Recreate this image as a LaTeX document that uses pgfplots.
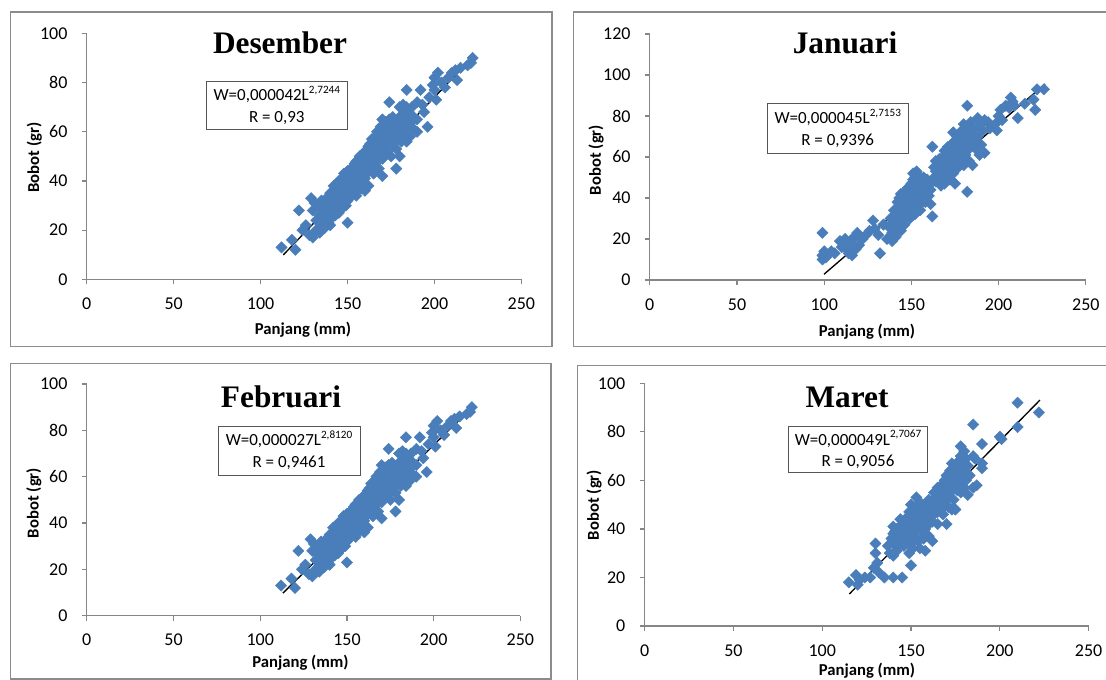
\documentclass[border=0pt]{standalone}
\usepackage{fontspec}
\setmainfont{Carlito}
\newfontfamily\titlefont{Liberation Serif}
\usepackage{pgfplots}
\usepackage{pgfplotstable}
\pgfplotsset{compat=1.18}
\definecolor{mblue}{HTML}{4A7EBB}
\definecolor{axgray}{HTML}{868686}
\definecolor{framegray}{HTML}{8C8C8C}
\definecolor{boxgray}{HTML}{555555}

\pgfplotstableread{
x y
112 13
118 16
120 12
122 28
124 20
126 22
128 18
129 33
130 17
130 28
131 31
132 24
132 20
133 30
134 26
134 19
135 32
135 22
136 28
136 24
137 30
137 21
138 33
138 26
139 29
139 23
140 35
140 31
140 27
140 22
141 33
141 25
142 38
142 30
142 28
143 36
143 32
143 26
144 39
144 34
144 29
145 40
145 37
145 31
145 27
146 35
146 33
146 30
147 41
147 38
147 34
147 29
148 43
148 39
148 36
148 32
149 40
149 37
149 33
149 30
150 44
150 41
150 38
150 35
150 32
150 23
151 42
151 39
151 36
151 33
152 45
152 40
152 37
152 34
153 43
153 39
153 35
154 47
154 44
154 41
154 37
155 48
155 45
155 42
155 38
155 34
156 46
156 43
156 40
156 36
157 50
157 47
157 44
157 39
158 49
158 45
158 42
158 37
159 51
159 47
159 43
159 40
160 52
160 48
160 45
160 41
160 36
161 50
161 46
161 43
162 54
162 51
162 47
162 44
162 38
163 55
163 52
163 48
163 45
164 57
164 53
164 49
164 46
165 56
165 52
165 48
165 43
166 58
166 54
166 50
166 47
167 60
167 56
167 52
167 49
168 57
168 53
168 50
168 45
169 62
169 58
169 55
169 51
170 65
170 61
170 57
170 53
170 49
170 42
171 63
171 59
171 55
172 64
172 60
172 56
172 52
173 62
173 58
173 54
174 72
174 65
174 61
174 57
175 63
175 59
175 55
175 50
176 66
176 62
176 58
176 54
177 64
177 60
177 56
178 45
178 62
178 58
178 53
179 65
179 61
179 57
180 70
180 66
180 63
180 59
180 50
181 64
181 60
181 56
182 71
182 67
182 62
183 65
183 59
184 77
184 70
184 64
184 56
185 68
185 62
186 66
186 58
187 70
187 64
188 66
188 61
190 72
190 65
190 60
192 77
193 71
194 68
196 62
197 74
199 79
200 82
200 77
201 73
202 84
204 80
206 78
208 82
210 84
212 85
213 81
215 86
219 87
221 88
222 90
}\dataDes

\pgfplotstableread{
x y
99 23
99 12
99 10
100 14
101 11
104 14
106 13
109 19
110 16
112 20
113 15
114 13
115 18
116 12
116 20
118 21
118 15
119 23
120 17
122 20
124 22
126 24
128 29
129 25
131 22
132 13
134 27
136 20
137 26
138 30
139 19
139 23
140 34
140 28
141 31
141 21
142 38
142 35
142 25
143 40
143 33
144 42
144 37
144 29
144 24
145 39
145 35
145 31
146 43
146 38
146 27
147 41
147 36
147 33
148 45
148 39
148 35
149 42
149 38
149 30
150 47
150 44
150 40
150 36
150 33
151 52
151 49
151 45
151 41
151 37
152 50
152 46
152 42
152 38
152 32
153 53
153 48
153 44
153 40
154 51
154 46
154 42
154 36
155 49
155 44
155 40
155 34
156 48
156 43
156 39
157 50
157 45
157 41
158 47
158 43
158 38
159 49
159 44
160 46
160 41
161 44
161 37
162 31
162 65
163 55
163 50
164 58
164 53
164 48
165 56
165 51
166 59
166 54
166 49
167 57
167 52
167 46
168 60
168 55
168 50
169 63
169 58
169 53
169 47
170 61
170 56
170 51
171 65
171 59
171 54
172 62
172 57
172 49
173 66
173 60
173 55
174 72
174 64
174 58
174 52
175 68
175 62
175 56
175 47
176 70
176 65
176 59
177 67
177 61
177 55
178 71
178 64
178 58
179 73
179 68
179 62
180 76
180 70
180 65
180 56
181 72
181 67
181 61
182 85
182 43
182 74
182 69
182 63
183 70
183 65
183 58
184 77
184 72
185 56
185 67
186 74
186 69
187 64
188 79
188 70
189 61
190 76
190 66
191 73
192 78
192 62
194 77
195 74
198 76
199 73
200 80
201 83
202 78
204 85
206 84
207 89
208 87
209 85
211 79
215 86
220 88
221 83
222 93
226 93
}\dataJan

\pgfplotstableread{
x y
115 18
119 21
120 17
121 19
124 20
127 20
129 24
130 34
130 30
131 26
132 22
135 20
137 33
138 30
139 36
140 20
140 41
140 38
140 34
140 29
141 39
141 36
142 31
142 40
143 37
143 33
144 44
144 41
144 38
144 35
145 20
145 42
145 36
146 39
146 33
147 43
147 38
148 45
148 41
148 36
149 30
149 47
149 42
150 50
150 46
150 43
150 39
150 34
150 25
151 48
151 44
151 40
151 32
152 46
152 42
152 37
153 53
153 49
153 44
153 40
154 47
154 43
154 35
155 51
155 46
155 41
155 32
156 49
156 44
156 39
157 47
157 42
157 36
158 50
158 45
158 40
158 31
159 48
159 43
160 52
160 47
160 42
160 37
161 50
161 45
162 48
162 43
162 35
163 55
163 51
163 46
164 53
164 48
165 57
165 52
165 47
165 42
166 55
166 50
167 58
167 53
167 48
168 56
168 51
168 46
169 60
169 54
170 62
170 57
170 52
170 42
171 59
171 55
171 49
172 64
172 60
172 55
173 67
173 62
173 57
173 48
174 65
174 60
174 52
175 63
175 58
175 48
176 66
176 61
176 56
177 68
177 63
177 59
178 74
178 70
178 65
178 55
179 67
179 62
180 72
180 64
180 57
181 69
181 60
182 66
182 54
183 62
185 83
185 70
185 57
186 69
187 58
190 75
190 67
190 65
200 78
201 77
210 92
210 82
222 88
}\dataMar

\pgfplotsset{
  panel/.style={
    scale only axis,
    axis lines=left,
    axis line style={-, draw=axgray, line width=0.9pt},
    tick style={draw=axgray, line width=0.9pt},
    tick align=outside,
    major tick length=3.75pt,
    xmin=0, xmax=250, xtick={0,50,...,250},
    ymin=0,
    /pgf/number format/assume math mode=true,
    tick label style={font=\fontsize{13.5}{16}\selectfont, text=black},
    xticklabel style={yshift=-6.5pt},
    yticklabel style={xshift=-7.2pt},
    anchor=south west,
  },
  pts/.style={only marks, mark=square*, mark size=3pt,
    mark options={rotate=45, fill=mblue, draw=mblue, line width=0.3pt}},
  trend/.style={black, line width=1pt, no marks},
}

\newcommand\lbl{\fontsize{12.5}{15}\selectfont\bfseries}
\newcommand\boxtxt{\fontsize{12.75}{16.3}\selectfont}
\newcommand\supx[1]{\raisebox{0.42em}{\fontsize{8.4}{10}\selectfont #1}}
\newcommand\ttl{\titlefont\bfseries\fontsize{23.5}{26}\selectfont}
\tikzset{eqbox/.style={draw=boxgray, line width=0.75pt, fill=white, align=center, inner sep=1pt, font=\boxtxt}}

\begin{document}
\begin{tikzpicture}
\useasboundingbox (0pt,0pt) rectangle (829.5pt,510pt);
\clip (0pt,0pt) rectangle (829.5pt,510pt);

% frames
\draw[framegray, line width=1.2pt] (8pt,250pt) rectangle (413.85pt,500.8pt);
\draw[framegray, line width=1.2pt] (430.1pt,250pt) rectangle (845pt,501.2pt);
\draw[framegray, line width=1.2pt] (8pt,0.75pt) rectangle (413.3pt,237.5pt);
\draw[framegray, line width=1.2pt] (433.1pt,-20pt) rectangle (845pt,235.9pt);

% Desember
\begin{axis}[panel, at={(65.1pt,300.5pt)}, width=325.95pt, height=184.5pt,
  ymax=100, ytick={0,20,...,100}]
\addplot[pts] table[x=x,y=y]{\dataDes};
\addplot[trend] coordinates {(113,9.9) (222.3,90.5)};
\end{axis}

% Januari
\begin{axis}[panel, at={(487.35pt,300pt)}, width=327pt, height=184.5pt,
  ymax=120, ytick={0,20,...,120}]
\addplot[pts] table[x=x,y=y]{\dataJan};
\addplot[trend] coordinates {(99.9,2.8) (226.6,95.6)};
\end{axis}

% Februari
\begin{axis}[panel, at={(65.1pt,48.2pt)}, width=325.2pt, height=173.8pt,
  ymax=100, ytick={0,20,...,100}]
\addplot[pts] table[x=x,y=y]{\dataDes};
\addplot[trend] coordinates {(113,9.7) (222.9,90.5)};
\end{axis}

% Maret
\begin{axis}[panel, at={(483.45pt,40.5pt)}, width=333pt, height=182pt,
  ymax=100, ytick={0,20,...,100}]
\addplot[pts] table[x=x,y=y]{\dataMar};
\addplot[trend] coordinates {(115.3,13.2) (222.6,93.1)};
\end{axis}

% titles
\node[anchor=base, inner sep=0] at (210pt,469.5pt) {\ttl Desember};
\node[anchor=base, inner sep=0] at (633.75pt,469.5pt) {\ttl Januari};
\node[anchor=base, inner sep=0] at (210.75pt,204.5pt) {\ttl Februari};
\node[anchor=base, inner sep=0] at (635.25pt,204.5pt) {\ttl Maret};

% equation boxes
\node[eqbox, minimum width=105.5pt, minimum height=35.7pt]
  at (207.6pt,430.9pt) {W=0,000042L\supx{2,7244}\\ R = 0,93};
\node[eqbox, minimum width=105.75pt, minimum height=37.5pt]
  at (628.3pt,413.8pt) {W=0,000045L\supx{2,7153}\\ R = 0,9396};
\node[eqbox, minimum width=106.5pt, minimum height=36.75pt]
  at (216.75pt,172.1pt) {W=0,000027L\supx{2,8120}\\ R = 0,9461};
\node[eqbox, minimum width=103.9pt, minimum height=34.5pt]
  at (643.5pt,172.7pt) {W=0,000049L\supx{2,7067}\\ R = 0,9056};

% axis labels
\node[inner sep=0] at (227.25pt,262.9pt) {\lbl Panjang (mm)};
\node[inner sep=0] at (650.25pt,261.2pt) {\lbl Panjang (mm)};
\node[inner sep=0] at (225.4pt,12.75pt) {\lbl Panjang (mm)};
\node[inner sep=0] at (650.25pt,7.3pt) {\lbl Panjang (mm)};
\node[inner sep=0, rotate=90] at (25.8pt,391.9pt) {\lbl Bobot (gr)};
\node[inner sep=0, rotate=90] at (447pt,390pt) {\lbl Bobot (gr)};
\node[inner sep=0, rotate=90] at (25.35pt,132.75pt) {\lbl Bobot (gr)};
\node[inner sep=0, rotate=90] at (445.5pt,131.25pt) {\lbl Bobot (gr)};
\end{tikzpicture}
\end{document}
